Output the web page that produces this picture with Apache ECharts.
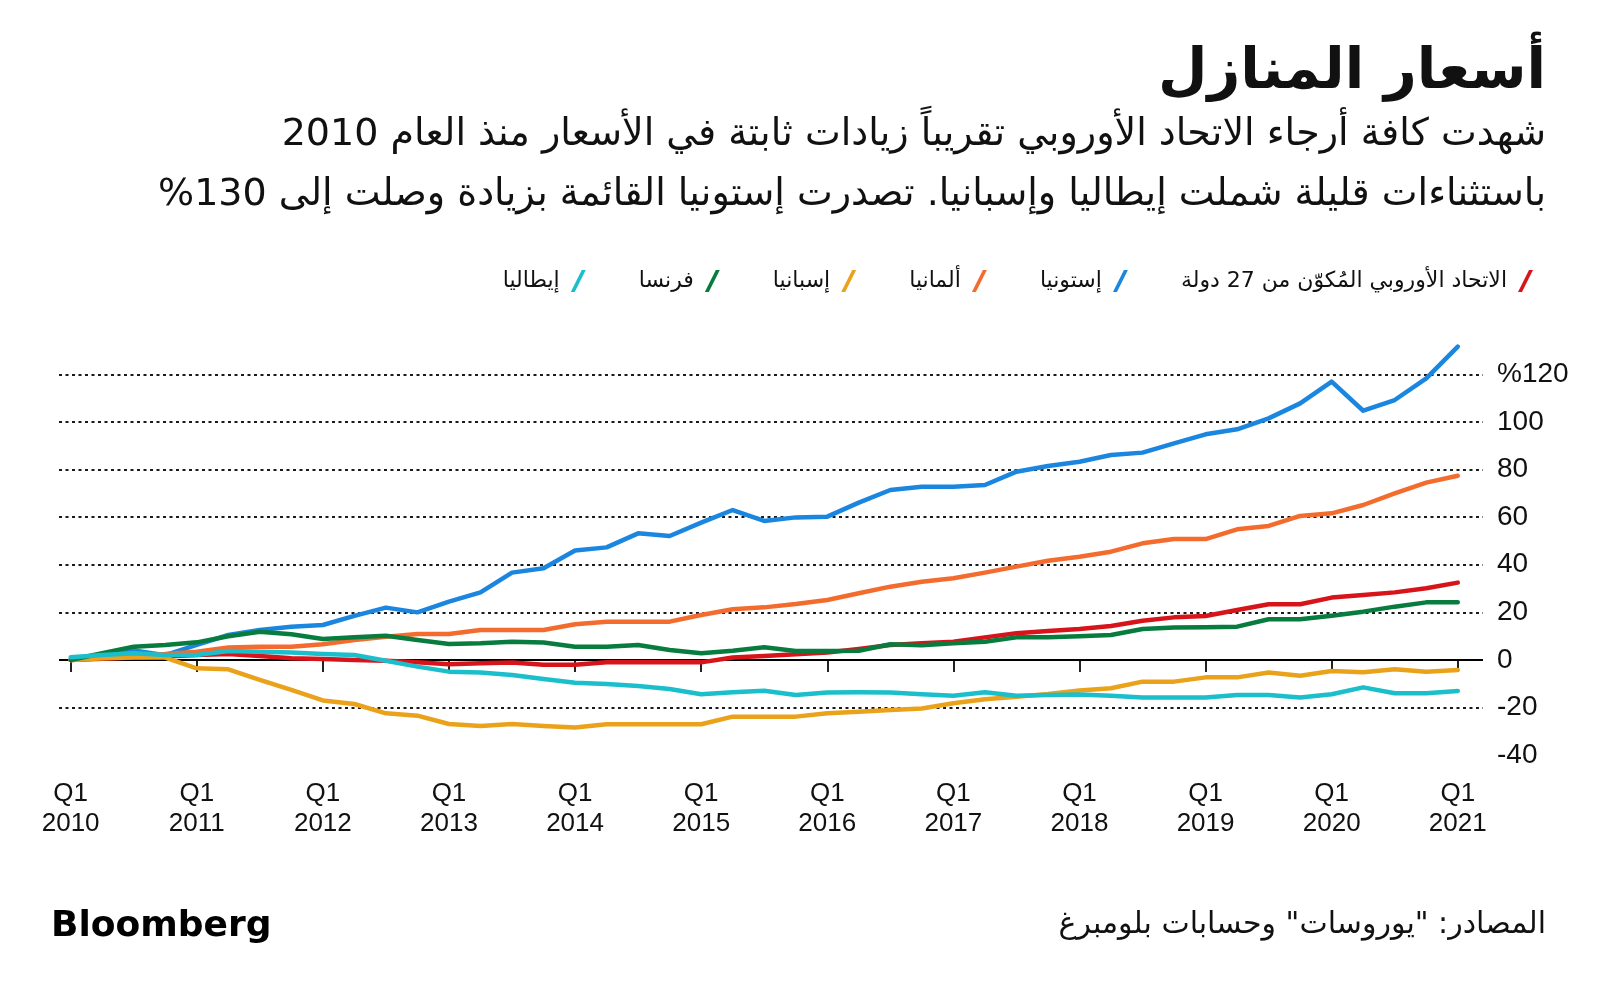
<!DOCTYPE html>
<html>
<head>
<meta charset="utf-8">
<script src="https://cdn.jsdelivr.net/npm/echarts@6/dist/echarts.min.js"></script>
<style>
html,body{margin:0;padding:0;background:#fff;}
#main{width:1600px;height:1002px;}
</style>
</head>
<body>
<div id="main"></div>
<script>
// ---- Data (percent change since Q1 2010) ----
const quarters = [
 '2010Q1','2010Q2','2010Q3','2010Q4','2011Q1','2011Q2','2011Q3','2011Q4',
 '2012Q1','2012Q2','2012Q3','2012Q4','2013Q1','2013Q2','2013Q3','2013Q4',
 '2014Q1','2014Q2','2014Q3','2014Q4','2015Q1','2015Q2','2015Q3','2015Q4',
 '2016Q1','2016Q2','2016Q3','2016Q4','2017Q1','2017Q2','2017Q3','2017Q4',
 '2018Q1','2018Q2','2018Q3','2018Q4','2019Q1','2019Q2','2019Q3','2019Q4',
 '2020Q1','2020Q2','2020Q3','2020Q4','2021Q1'
];
const seriesNames = ['الاتحاد الأوروبي المُكوّن من 27 دولة','إستونيا','ألمانيا','إسبانيا','فرنسا','إيطاليا'];
const eu27 = [0,0.5,1,1.5,2.1,2.5,1.7,0.7,0.4,0,-0.3,-1,-1.8,-1.4,-1.1,-2,-2,-1,-1,-1,-1,1,1.7,2.4,3.1,4.6,6.3,7,7.7,9.5,11.2,12.2,13,14.3,16.5,17.9,18.5,21,23.4,23.4,26.2,27.3,28.4,30.1,32.5];
const estonia = [0,2,4,2,6.3,10.5,12.6,14,14.7,18.5,22,20,24.5,28.4,36.7,38.5,46,47.3,53.2,52.1,57.7,63,58.4,59.9,60.2,66.1,71.4,72.8,72.8,73.5,79.1,81.5,83.3,86.1,87.1,91,94.8,96.9,101.5,107.8,116.9,104.7,109.2,118.3,131.6];
const germany = [0,1,2,2.5,3.5,5.2,5.6,5.6,6.6,8.4,9.8,10.9,10.9,12.6,12.6,12.6,15,16.1,16.1,16.1,18.9,21.3,22.1,23.5,25.2,28,30.8,32.9,34.3,36.7,39.2,41.7,43.4,45.5,49,50.8,50.8,54.9,56.3,60.5,61.6,65.1,70,74.5,77.4];
const spain = [0,0.7,1,1,-3.5,-3.9,-8.4,-12.6,-17,-18.5,-22.4,-23.4,-26.9,-27.7,-26.9,-27.7,-28.4,-27,-27,-27,-27,-23.8,-23.8,-23.8,-22.4,-21.7,-21,-20.4,-18.2,-16.5,-15.4,-14.3,-12.8,-11.9,-9.1,-9.1,-7.3,-7.3,-5.3,-6.6,-4.6,-5.2,-3.9,-4.9,-4.2];
const france = [0,2.8,5.6,6.3,7.4,10,11.9,10.8,8.8,9.5,10.2,8.4,6.7,7,7.7,7.3,5.6,5.6,6.3,4.2,2.8,3.9,5.3,3.8,3.8,3.9,6.6,6.2,7,7.7,9.5,9.5,10,10.5,13,13.6,13.7,14,17.1,17.1,18.6,20.3,22.4,24.2,24.2];
const italy = [1.1,2.1,2.8,2.1,2.1,3.8,3.5,3.1,2.5,2.1,-0.3,-2.8,-4.9,-5.3,-6.3,-8,-9.6,-10.1,-10.9,-12.2,-14.4,-13.6,-12.9,-14.7,-13.7,-13.6,-13.7,-14.4,-15,-13.6,-15,-14.7,-14.5,-15,-15.8,-15.8,-15.8,-14.7,-14.7,-15.8,-14.4,-11.5,-14,-14,-13];
const yLabelValues = [-40,-20,0,20,40,60,80,100,120];
const yGridValues = [-20,20,40,60,80,100,120];

const titleText = 'أسعار المنازل';
const subtitle1 = 'شهدت كافة أرجاء الاتحاد الأوروبي تقريباً زيادات ثابتة في الأسعار منذ العام 2010';
const subtitle2 = 'باستثناءات قليلة شملت إيطاليا وإسبانيا. تصدرت إستونيا القائمة بزيادة وصلت إلى 130%';
const sourceText = 'المصادر: "يوروسات" وحسابات بلومبرغ';

const colors = ['#d7141a','#1a86e0','#f46b2e','#eba21b','#087c3e','#1bbfcc'];
const allValues = [eu27, estonia, germany, spain, france, italy];

const xTickValues = quarters.map((q,i)=> q.endsWith('Q1') ? i : null).filter(v=>v!==null);

const AR = '"DejaVu Sans", sans-serif';
const LAT = '"Liberation Sans", Arial, sans-serif';
const rtl = s => '\u202B' + s + '\u202C';

const chart = echarts.init(document.getElementById('main'), null, {renderer:'canvas'});

const series = allValues.map((vals, k) => {
  const s = {
    name: seriesNames[k],
    type: 'line',
    data: vals.map((v,i)=>[i,v]),
    showSymbol: false,
    symbol: 'none',
    lineStyle: {color: colors[k], width: 4.5, cap: 'round', join: 'round'},
    itemStyle: {color: colors[k]},
    z: 3 + k,
    clip: false,
    animation: false
  };
  if (k === 0) {
    s.markLine = {
      silent: true, symbol: 'none', animation: false,
      label: {show: false},
      lineStyle: {color: '#000', width: 2, type: 'solid'},
      data: [{yAxis: 0}],
      z: 2
    };
  }
  return s;
});

const option = {
  backgroundColor: '#ffffff',
  animation: false,
  color: colors,
  grid: {left: 59, right: 117, top: 338.6, bottom: 246.8, containLabel: false},
  legend: {
    data: seriesNames.slice().reverse(),
    right: 62, top: 265,
    align: 'right',
    itemGap: 53,
    itemWidth: 15, itemHeight: 22,
    icon: 'path://M0,22 L4,22 L15,0 L11,0 Z',
    selectedMode: false,
    textStyle: {fontFamily: AR, fontSize: 22, color: '#111', padding: [0, 6, 0, 0]}
  },
  xAxis: {
    type: 'value',
    min: -0.37, max: 44.8,
    axisLine: {show: false},
    splitLine: {show: false},
    axisTick: {show: true, length: 12, customValues: xTickValues, lineStyle: {color: '#222', width: 2}},
    axisLabel: {
      customValues: xTickValues,
      margin: 24,
      fontFamily: LAT, fontSize: 26, lineHeight: 30, color: '#111',
      formatter: v => { const q = quarters[Math.round(v)]; return q ? 'Q1\n' + q.slice(0,4) : ''; }
    }
  },
  yAxis: {
    type: 'value',
    position: 'right',
    min: -40, max: 135,
    axisLine: {show: false},
    axisTick: {show: false, customValues: yGridValues},
    splitLine: {show: true, lineStyle: {color: '#1a1a1a', width: 2, type: [3,3.5]}},
    axisLabel: {
      customValues: yLabelValues,
      margin: 14,
      fontFamily: LAT, fontSize: 28, color: '#111',
      formatter: v => v === 120 ? '%120' : String(v)
    }
  },
  graphic: [
    {type:'text', right: 54, top: 45, style:{text: rtl(titleText), font: 'bold 57px ' + AR, fill:'#111', textAlign:'right'}},
    {type:'text', right: 54, top: 116, style:{text: rtl(subtitle1), font: '38px ' + AR, fill:'#111', textAlign:'right'}},
    {type:'text', right: 54, top: 176, style:{text: rtl(subtitle2), font: '38px ' + AR, fill:'#111', textAlign:'right'}},
    {type:'text', right: 54, top: 910, style:{text: rtl(sourceText), font: '30px ' + AR, fill:'#111', textAlign:'right'}},
    {type:'text', left: 51, top: 909, style:{text: 'Bloomberg', font: 'bold 36px "DejaVu Sans", sans-serif', fill:'#000'}}
  ],
  series: series
};
chart.setOption(option);
</script>
</body>
</html>
